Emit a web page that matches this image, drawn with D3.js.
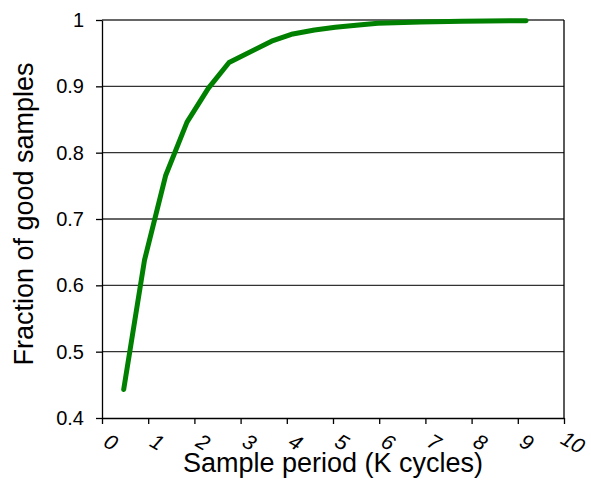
<!DOCTYPE html>
<html>
<head>
<meta charset="utf-8">
<script src="https://cdn.jsdelivr.net/npm/d3@7"></script>
<style>
  body { margin: 0; background: #fff; }
  svg { font-family: "Liberation Sans", Arial, sans-serif; }
</style>
</head>
<body>
<svg id="chart" width="591" height="481"></svg>
<script>
// sample period in K cycles, fraction of good samples
const periods = [0.47, 0.92, 1.38, 1.84, 2.3, 2.75, 3.67, 4.13, 4.6, 5.05, 5.5, 5.97, 6.9, 7.8, 9.18];
const fractions = [0.443, 0.638, 0.766, 0.846, 0.897, 0.936, 0.968, 0.979, 0.985, 0.989, 0.992, 0.995, 0.997, 0.998, 0.999];
const xTicks = [0, 1, 2, 3, 4, 5, 6, 7, 8, 9, 10];
const yTicks = [0.4, 0.5, 0.6, 0.7, 0.8, 0.9, 1];

const svg = d3.select("#chart");
const margin = {top: 20, right: 27, bottom: 63, left: 102};
const width = 591, height = 481;

const x = d3.scaleLinear().domain([0, 10]).range([margin.left, width - margin.right]);
const y = d3.scaleLinear().domain([0.4, 1]).range([height - margin.bottom, margin.top]);

// gridlines
svg.append("g")
  .selectAll("line")
  .data(yTicks.slice(1))
  .join("line")
    .attr("x1", x(0)).attr("x2", x(10))
    .attr("y1", d => y(d)).attr("y2", d => y(d))
    .attr("stroke", "#333").attr("stroke-width", 1.3);

// right border
svg.append("line")
  .attr("x1", x(10)).attr("x2", x(10))
  .attr("y1", y(1)).attr("y2", y(0.4))
  .attr("stroke", "#000").attr("stroke-width", 1.3);

// y axis
svg.append("g")
  .attr("transform", `translate(${x(0)},0)`)
  .call(d3.axisLeft(y).tickValues(yTicks).tickFormat(d3.format("")).tickSize(6).tickSizeOuter(0))
  .call(g => g.selectAll("line, path").attr("stroke", "#000").attr("stroke-width", 1.3))
  .call(g => g.selectAll("text").attr("font-size", "20px").attr("fill", "#000").attr("x", -18));

// x axis
svg.append("g")
  .attr("transform", `translate(0,${y(0.4)})`)
  .call(d3.axisBottom(x).tickValues(xTicks).tickFormat("").tickSize(6).tickSizeOuter(0))
  .call(g => g.selectAll("line, path").attr("stroke", "#000").attr("stroke-width", 1.3));

// rotated x tick labels
svg.append("g")
  .selectAll("text")
  .data(xTicks)
  .join("text")
    .attr("transform", d => `translate(${x(d) + 9},${y(0.4) + 24}) rotate(30)`)
    .attr("text-anchor", "middle")
    .attr("dominant-baseline", "central")
    .attr("font-size", "21px")
    .attr("font-style", "italic")
    .text(d => d);

// the curve
svg.append("path")
  .datum(periods.map((p, i) => [p, fractions[i]]))
  .attr("fill", "none")
  .attr("stroke", "#008000")
  .attr("stroke-width", 5)
  .attr("stroke-linejoin", "round")
  .attr("stroke-linecap", "round")
  .attr("d", d3.line().x(d => x(d[0])).y(d => y(d[1])));

// axis titles
svg.append("text")
  .attr("x", 333)
  .attr("y", 472)
  .attr("text-anchor", "middle")
  .attr("font-size", "27px")
  .text("Sample period (K cycles)");

svg.append("text")
  .attr("transform", `translate(33,214) rotate(-90)`)
  .attr("text-anchor", "middle")
  .attr("font-size", "27px")
  .text("Fraction of good samples");
</script>
</body>
</html>
